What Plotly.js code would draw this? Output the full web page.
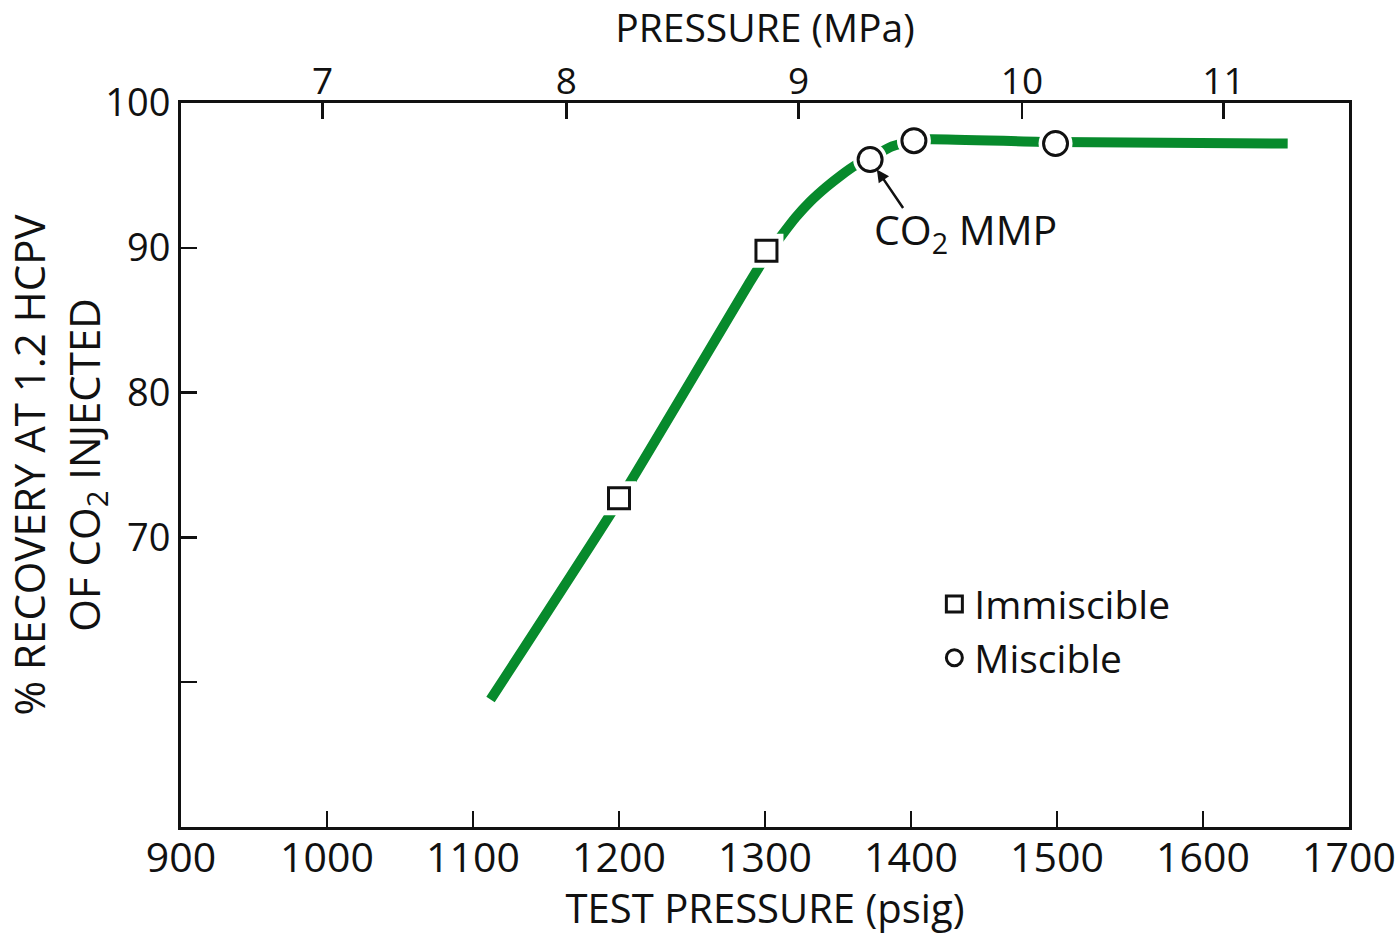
<!DOCTYPE html>
<html>
<head>
<meta charset="utf-8">
<script src="https://cdn.plot.ly/plotly-3.0.1.min.js"></script>
<style>html,body{margin:0;padding:0;background:#fff;}#chart{width:1397px;height:935px;}</style>
</head>
<body>
<div id="chart"></div>
<script>
// Hand-drawn recovery curve (test pressure psig, % recovery)
var curvePressure = [1112, 1201, 1290, 1300, 1311, 1321, 1331, 1342, 1352, 1362, 1372, 1387, 1402, 1413, 1499, 1658];
var curveRecovery = [58.8, 72.7, 87.7, 89.3, 90.8, 92.1, 93.2, 94.2, 95.0, 95.7, 96.2, 97.0, 97.4, 97.5, 97.3, 97.2];

// Immiscible tests (squares)
var immiscPressure = [1200, 1301];
var immiscRecovery = [72.7, 89.8];

// Miscible tests (circles)
var miscPressure = [1372, 1402, 1499];
var miscRecovery = [96.1, 97.4, 97.2];

// Bottom axis ticks (psig)
var psigTicks = [900, 1000, 1100, 1200, 1300, 1400, 1500, 1600, 1700];
// Top axis ticks: MPa labels and where they sit on the psig scale in the figure
var mpaLabels = ['7', '8', '9', '10', '11'];
var mpaTickPsig = [997, 1164, 1323, 1476, 1614];
// Left axis ticks
var recoveryTicks = [60, 70, 80, 90, 100];
var recoveryLabels = ['', '70', '80', '90', '100'];

// MMP annotation point
var mmpPressure = 1372, mmpRecovery = 96.1;

var FONT = 'Open Sans, Lato, DejaVu Sans, sans-serif';
var GREEN = '#078a2c';

var traces = [
  {x: curvePressure, y: curveRecovery, mode: 'lines', type: 'scatter',
   line: {color: GREEN, width: 10, shape: 'spline', smoothing: 0.5},
   showlegend: false, hoverinfo: 'skip'},
  {x: immiscPressure, y: immiscRecovery, mode: 'markers', type: 'scatter',
   marker: {symbol: 'square', size: 34, color: '#fff'}, showlegend: false, hoverinfo: 'skip'},
  {x: miscPressure, y: miscRecovery, mode: 'markers', type: 'scatter',
   marker: {symbol: 'circle', size: 34, color: '#fff'}, showlegend: false, hoverinfo: 'skip'},
  {x: immiscPressure, y: immiscRecovery, mode: 'markers', type: 'scatter', name: 'Immiscible',
   marker: {symbol: 'square', size: 21, color: '#fff', line: {color: '#111', width: 3}}},
  {x: miscPressure, y: miscRecovery, mode: 'markers', type: 'scatter', name: 'Miscible',
   marker: {symbol: 'circle', size: 24, color: '#fff', line: {color: '#111', width: 3}}},
  {x: [mpaTickPsig[0]], y: [null], xaxis: 'x2', mode: 'markers', showlegend: false, hoverinfo: 'skip'}
];

var layout = {
  width: 1397, height: 935,
  margin: {l: 181, r: 48, t: 103, b: 108},
  paper_bgcolor: '#fff', plot_bgcolor: '#fff',
  font: {family: FONT, color: '#111'},
  showlegend: true,
  legend: {x: 0.645, y: 0.352, xanchor: 'left', yanchor: 'top',
           font: {family: FONT, size: 39, color: '#111'},
           bgcolor: 'rgba(0,0,0,0)', borderwidth: 0, itemwidth: 30, tracegroupgap: 0},
  xaxis: {
    range: [900, 1700], tickmode: 'array', tickvals: psigTicks,
    ticks: 'inside', ticklen: 16, tickwidth: 2.5, tickcolor: '#111',
    showline: true, linecolor: '#111', linewidth: 3, mirror: false,
    showgrid: false, zeroline: false, ticklabelstandoff: -7,
    tickfont: {family: FONT, size: 41, color: '#111'},
    title: {text: 'TEST PRESSURE (psig)', font: {family: FONT, size: 40, color: '#111'}, standoff: 9}
  },
  xaxis2: {
    overlaying: 'x', side: 'top', range: [900, 1700],
    tickmode: 'array', tickvals: mpaTickPsig, ticktext: mpaLabels,
    ticks: 'inside', ticklen: 16, tickwidth: 2.5, tickcolor: '#111',
    showline: true, linecolor: '#111', linewidth: 3,
    showgrid: false, zeroline: false, ticklabelstandoff: -9,
    tickfont: {family: FONT, size: 37, color: '#111'},
    title: {text: 'PRESSURE (MPa)', font: {family: FONT, size: 39, color: '#111'}, standoff: 11}
  },
  yaxis: {
    range: [50, 100], tickmode: 'array', tickvals: recoveryTicks, ticktext: recoveryLabels,
    ticks: 'inside', ticklen: 16, tickwidth: 2.5, tickcolor: '#111',
    showline: true, linecolor: '#111', linewidth: 3, mirror: true,
    showgrid: false, zeroline: false,
    tickfont: {family: FONT, size: 38, color: '#111'},
    title: {text: '% RECOVERY AT 1.2 HCPV<br>OF CO<sub>2</sub> INJECTED',
            font: {family: FONT, size: 42, color: '#111'}, standoff: 4}
  },
  annotations: [
    {x: mmpPressure, y: mmpRecovery, xref: 'x', yref: 'y', text: '',
     showarrow: true, arrowhead: 2, arrowsize: 1, arrowwidth: 2.5, arrowcolor: '#111',
     standoff: 12, ax: 34, ay: 50},
    {x: mmpPressure, y: mmpRecovery, xref: 'x', yref: 'y', text: 'CO<sub>2</sub> MMP',
     showarrow: false, xanchor: 'center', yanchor: 'middle', xshift: 95, yshift: -72,
     font: {family: FONT, size: 41, color: '#111'}}
  ]
};

Plotly.newPlot('chart', traces, layout, {displayModeBar: false, staticPlot: true});
</script>
</body>
</html>
